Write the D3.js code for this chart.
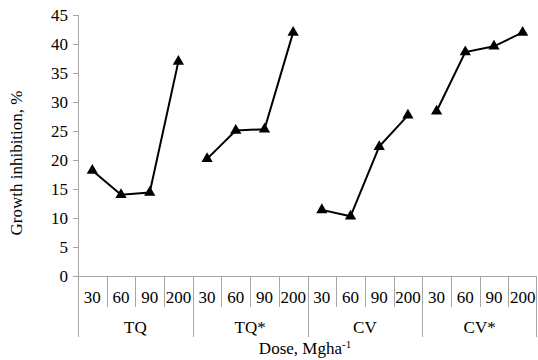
<!DOCTYPE html>
<html>
<head>
<meta charset="utf-8">
<script src="https://cdn.jsdelivr.net/npm/d3@7"></script>
<style>
body { margin: 0; background: #fff; }
svg text { font-family: "Liberation Serif", "DejaVu Serif", "Tinos", "Times New Roman", serif; fill: #000; }
</style>
</head>
<body>
<div id="myDiv"></div>
<script>
var groups = ["TQ", "TQ*", "CV", "CV*"];
var doses = ["30", "60", "90", "200"];
var tqValues = [18.2, 14.0, 14.4, 37.0];
var tqStarValues = [20.2, 25.1, 25.3, 42.0];
var cvValues = [11.4, 10.3, 22.3, 27.7];
var cvStarValues = [28.4, 38.6, 39.6, 42.0];
var yTicks = [0, 5, 10, 15, 20, 25, 30, 35, 40, 45];

var seriesValues = [tqValues, tqStarValues, cvValues, cvStarValues];

var chartW = 538, chartH = 360;
var plotLeft = 78, plotRight = 537, plotTop = 15, plotBottom = 276;
var axisColor = "#a6a6a6";
var fontSize = "17px";

var svgContainer = d3.select("#myDiv").append("svg")
    .attr("width", chartW)
    .attr("height", chartH);

var keys = [];
groups.forEach(function(g){
    doses.forEach(function(d){ keys.push(g + "|" + d); });
});

var x = d3.scaleBand().domain(keys).range([plotLeft, plotRight]).padding(0);
var y = d3.scaleLinear().domain([0, 45]).range([plotBottom, plotTop]);

// y axis
var yAxis = d3.axisLeft(y).tickValues(yTicks).tickSize(5).tickPadding(5);
var yG = svgContainer.append("g")
    .attr("transform", "translate(" + plotLeft + ",0)")
    .call(yAxis);
yG.attr("font-family", null).attr("font-size", null);
yG.select(".domain").remove();
yG.selectAll("line").attr("stroke", axisColor);
yG.selectAll("text").style("font-size", fontSize);

// y axis line, extended through the category rows
svgContainer.append("line")
    .attr("x1", plotLeft + 0.5).attr("x2", plotLeft + 0.5)
    .attr("y1", plotTop).attr("y2", 337)
    .attr("stroke", axisColor);

// x axis baseline
svgContainer.append("line")
    .attr("x1", plotLeft).attr("x2", plotRight)
    .attr("y1", plotBottom + 0.5).attr("y2", plotBottom + 0.5)
    .attr("stroke", axisColor);

// separators between dose cells
svgContainer.selectAll("line.sep")
    .data(keys.slice(1).concat(["end"]))
    .enter()
    .append("line")
    .attr("class", "sep")
    .attr("x1", function(k){ return k == "end" ? plotRight - 0.5 : Math.round(x(k)) + 0.5; })
    .attr("x2", function(k){ return k == "end" ? plotRight - 0.5 : Math.round(x(k)) + 0.5; })
    .attr("y1", plotBottom)
    .attr("y2", function(k){
        return (k == "end" || k.split("|")[1] == doses[0]) ? 337 : 307;
    })
    .attr("stroke", axisColor);

// dose labels
svgContainer.selectAll("text.dose")
    .data(keys)
    .enter()
    .append("text")
    .attr("class", "dose")
    .attr("x", function(k){ return x(k) + x.bandwidth() / 2; })
    .attr("y", 303)
    .attr("text-anchor", "middle")
    .style("font-size", fontSize)
    .text(function(k){ return k.split("|")[1]; });

// group labels
svgContainer.selectAll("text.group")
    .data(groups)
    .enter()
    .append("text")
    .attr("class", "group")
    .attr("x", function(g){
        return (x(g + "|" + doses[0]) + x(g + "|" + doses[3]) + x.bandwidth()) / 2;
    })
    .attr("y", 333)
    .attr("text-anchor", "middle")
    .style("font-size", fontSize)
    .text(function(g){ return g; });

// axis titles
var xTitle = svgContainer.append("text")
    .attr("x", 305)
    .attr("y", 354)
    .attr("text-anchor", "middle")
    .style("font-size", fontSize);
xTitle.append("tspan").text("Dose, Mgha");
xTitle.append("tspan").attr("dy", -6).style("font-size", "11px").text("-1");

svgContainer.append("text")
    .attr("transform", "translate(22,163) rotate(-90)")
    .attr("text-anchor", "middle")
    .style("font-size", fontSize)
    .text("Growth inhibition, %");

// lines and markers, one polyline per group
var line = d3.line()
    .x(function(d){ return x(d.key) + x.bandwidth() / 2; })
    .y(function(d){ return y(d.value); });

var seriesData = groups.map(function(g, i){
    return doses.map(function(d, j){
        return { key: g + "|" + d, value: seriesValues[i][j] };
    });
});

svgContainer.selectAll("path.series")
    .data(seriesData)
    .enter()
    .append("path")
    .attr("class", "series")
    .attr("d", line)
    .attr("fill", "none")
    .attr("stroke", "#000")
    .attr("stroke-width", 2);

var tri = d3.symbol().type(d3.symbolTriangle).size(55);
svgContainer.selectAll("path.marker")
    .data(seriesData.flat())
    .enter()
    .append("path")
    .attr("class", "marker")
    .attr("d", tri)
    .attr("transform", function(d){
        return "translate(" + (x(d.key) + x.bandwidth() / 2) + "," + y(d.value) + ")";
    })
    .attr("fill", "#000");
</script>
</body>
</html>
